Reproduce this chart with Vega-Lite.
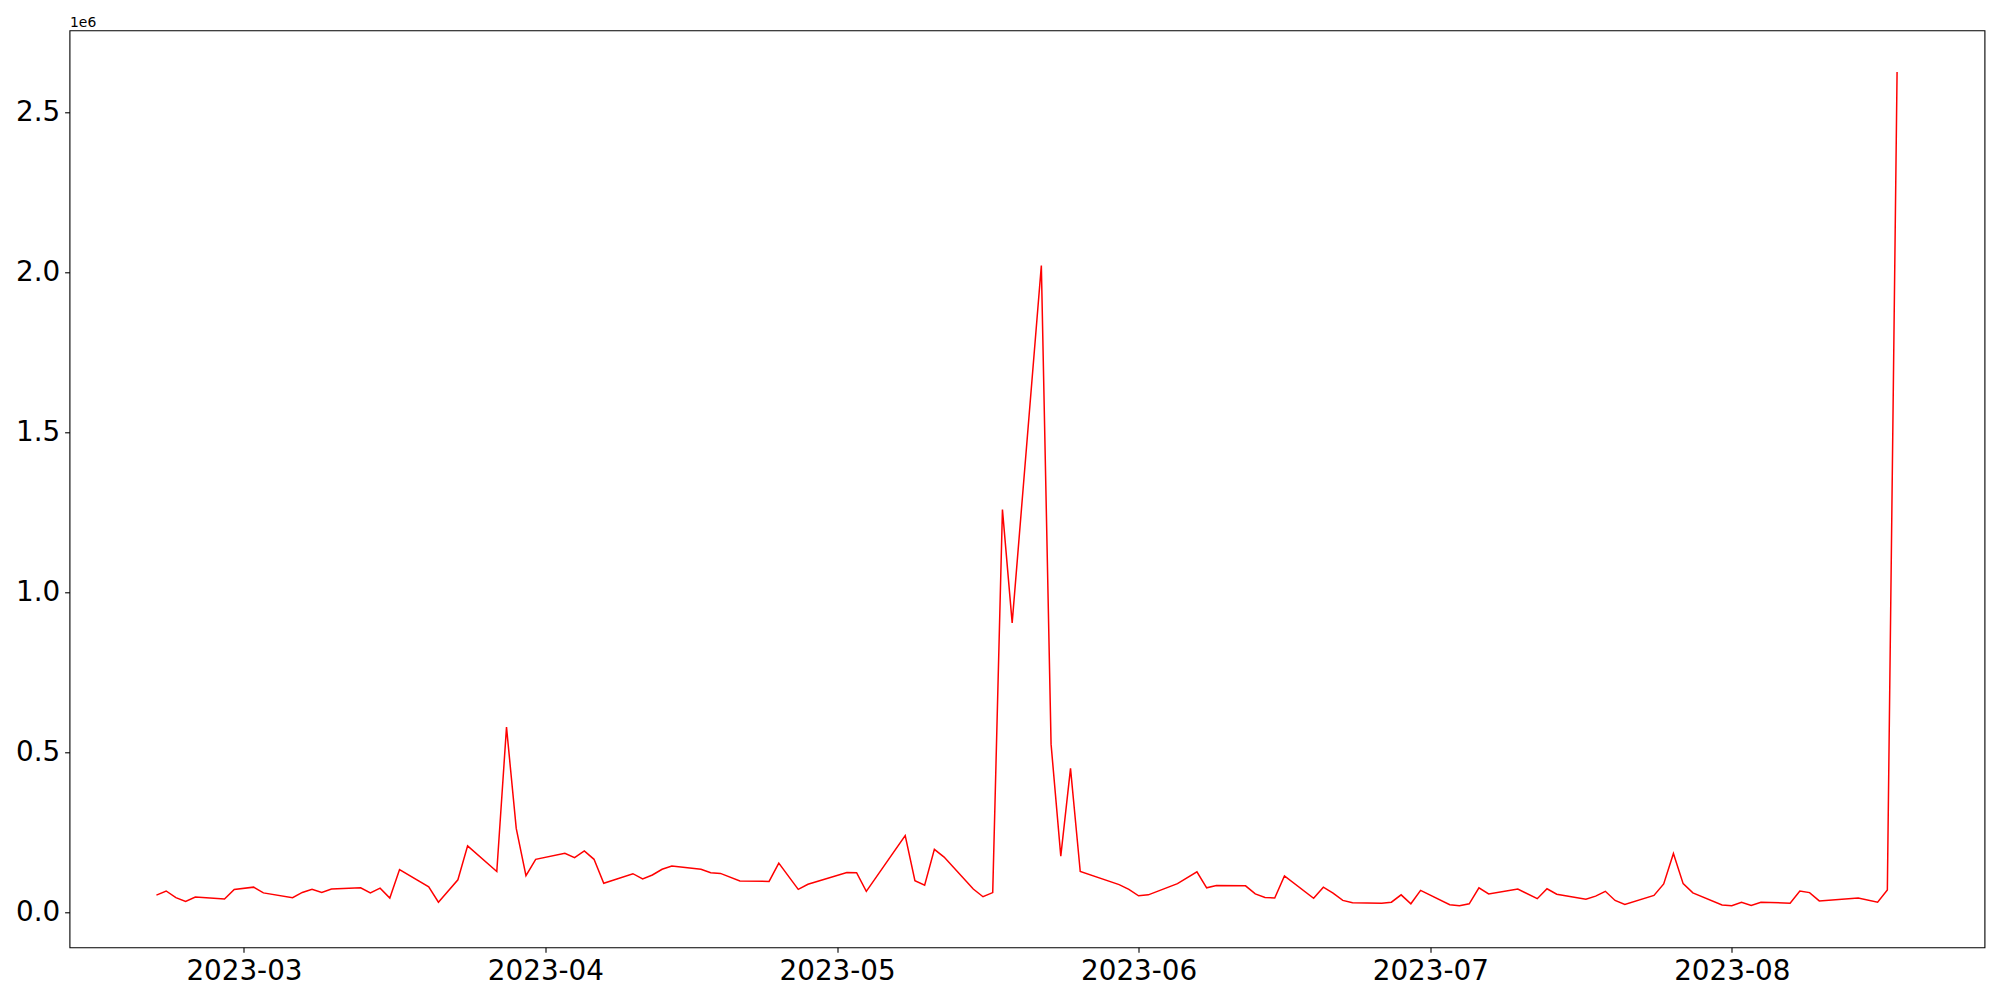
{
  "$schema": "https://vega.github.io/schema/vega-lite/v6.json",
  "width": 1915,
  "height": 917,
  "autosize": {"type": "none"},
  "padding": {"left": 69.5, "top": 30.3, "right": 15.5, "bottom": 52.7},
  "background": "white",
  "config": {
    "view": {"stroke": "black", "strokeWidth": 1.1},
    "axis": {
      "domain": false,
      "grid": false,
      "ticks": true,
      "tickColor": "black",
      "tickSize": 4.9,
      "tickWidth": 1.1,
      "labelFont": "DejaVu Sans",
      "labelFontSize": 27.8,
      "labelColor": "black",
      "labelPadding": 4.9,
      "labelFlush": false,
      "labelOverlap": false,
      "labelBound": false
    }
  },
  "data": {
    "values": [
      {"date": "2023-02-20", "value": 54000},
      {"date": "2023-02-21", "value": 67000},
      {"date": "2023-02-22", "value": 46000},
      {"date": "2023-02-23", "value": 34000},
      {"date": "2023-02-24", "value": 48000},
      {"date": "2023-02-27", "value": 42000},
      {"date": "2023-02-28", "value": 72000},
      {"date": "2023-03-02", "value": 79000},
      {"date": "2023-03-03", "value": 61000},
      {"date": "2023-03-06", "value": 46000},
      {"date": "2023-03-07", "value": 62500},
      {"date": "2023-03-08", "value": 72000},
      {"date": "2023-03-09", "value": 62500},
      {"date": "2023-03-10", "value": 73000},
      {"date": "2023-03-13", "value": 77000},
      {"date": "2023-03-14", "value": 61000},
      {"date": "2023-03-15", "value": 76000},
      {"date": "2023-03-16", "value": 45000},
      {"date": "2023-03-17", "value": 134000},
      {"date": "2023-03-20", "value": 80000},
      {"date": "2023-03-21", "value": 32000},
      {"date": "2023-03-23", "value": 102000},
      {"date": "2023-03-24", "value": 208000},
      {"date": "2023-03-27", "value": 128000},
      {"date": "2023-03-28", "value": 579000},
      {"date": "2023-03-29", "value": 262500},
      {"date": "2023-03-30", "value": 115000},
      {"date": "2023-03-31", "value": 166000},
      {"date": "2023-04-03", "value": 185000},
      {"date": "2023-04-04", "value": 171000},
      {"date": "2023-04-05", "value": 192000},
      {"date": "2023-04-06", "value": 166000},
      {"date": "2023-04-07", "value": 91000},
      {"date": "2023-04-10", "value": 121000},
      {"date": "2023-04-11", "value": 105000},
      {"date": "2023-04-12", "value": 117000},
      {"date": "2023-04-13", "value": 135000},
      {"date": "2023-04-14", "value": 145000},
      {"date": "2023-04-17", "value": 135000},
      {"date": "2023-04-18", "value": 124000},
      {"date": "2023-04-19", "value": 122000},
      {"date": "2023-04-21", "value": 98000},
      {"date": "2023-04-24", "value": 97000},
      {"date": "2023-04-25", "value": 154000},
      {"date": "2023-04-27", "value": 72000},
      {"date": "2023-04-28", "value": 88000},
      {"date": "2023-05-02", "value": 125000},
      {"date": "2023-05-03", "value": 124000},
      {"date": "2023-05-04", "value": 66000},
      {"date": "2023-05-08", "value": 240000},
      {"date": "2023-05-09", "value": 99000},
      {"date": "2023-05-10", "value": 85000},
      {"date": "2023-05-11", "value": 197000},
      {"date": "2023-05-12", "value": 173000},
      {"date": "2023-05-15", "value": 73000},
      {"date": "2023-05-16", "value": 49000},
      {"date": "2023-05-17", "value": 62000},
      {"date": "2023-05-18", "value": 1259000},
      {"date": "2023-05-19", "value": 905000},
      {"date": "2023-05-22", "value": 2022000},
      {"date": "2023-05-23", "value": 526000},
      {"date": "2023-05-24", "value": 176000},
      {"date": "2023-05-25", "value": 450000},
      {"date": "2023-05-26", "value": 128000},
      {"date": "2023-05-30", "value": 87000},
      {"date": "2023-05-31", "value": 72000},
      {"date": "2023-06-01", "value": 52000},
      {"date": "2023-06-02", "value": 55000},
      {"date": "2023-06-05", "value": 90000},
      {"date": "2023-06-07", "value": 127000},
      {"date": "2023-06-08", "value": 77000},
      {"date": "2023-06-09", "value": 84000},
      {"date": "2023-06-12", "value": 83000},
      {"date": "2023-06-13", "value": 58000},
      {"date": "2023-06-14", "value": 47000},
      {"date": "2023-06-15", "value": 45000},
      {"date": "2023-06-16", "value": 114000},
      {"date": "2023-06-19", "value": 44000},
      {"date": "2023-06-20", "value": 79000},
      {"date": "2023-06-21", "value": 60000},
      {"date": "2023-06-22", "value": 37500},
      {"date": "2023-06-23", "value": 30000},
      {"date": "2023-06-26", "value": 29000},
      {"date": "2023-06-27", "value": 32000},
      {"date": "2023-06-28", "value": 55000},
      {"date": "2023-06-29", "value": 27000},
      {"date": "2023-06-30", "value": 69000},
      {"date": "2023-07-03", "value": 24000},
      {"date": "2023-07-04", "value": 21000},
      {"date": "2023-07-05", "value": 27000},
      {"date": "2023-07-06", "value": 77000},
      {"date": "2023-07-07", "value": 58000},
      {"date": "2023-07-10", "value": 73000},
      {"date": "2023-07-12", "value": 43000},
      {"date": "2023-07-13", "value": 74000},
      {"date": "2023-07-14", "value": 57000},
      {"date": "2023-07-17", "value": 41000},
      {"date": "2023-07-18", "value": 51000},
      {"date": "2023-07-19", "value": 66000},
      {"date": "2023-07-20", "value": 37500},
      {"date": "2023-07-21", "value": 25000},
      {"date": "2023-07-24", "value": 53000},
      {"date": "2023-07-25", "value": 89000},
      {"date": "2023-07-26", "value": 184000},
      {"date": "2023-07-27", "value": 90000},
      {"date": "2023-07-28", "value": 61000},
      {"date": "2023-07-31", "value": 23000},
      {"date": "2023-08-01", "value": 21000},
      {"date": "2023-08-02", "value": 32000},
      {"date": "2023-08-03", "value": 22000},
      {"date": "2023-08-04", "value": 32000},
      {"date": "2023-08-07", "value": 29000},
      {"date": "2023-08-08", "value": 67000},
      {"date": "2023-08-09", "value": 62000},
      {"date": "2023-08-10", "value": 36000},
      {"date": "2023-08-14", "value": 45000},
      {"date": "2023-08-16", "value": 32000},
      {"date": "2023-08-17", "value": 70000},
      {"date": "2023-08-18", "value": 2627000}
    ]
  },
  "mark": {"type": "line", "color": "#ff0000", "strokeWidth": 1.5, "clip": true},
  "encoding": {
    "x": {
      "field": "date",
      "type": "temporal",
      "scale": {
        "type": "utc",
        "domain": [
          {"year": 2023, "month": 2, "date": 11, "hours": 1, "minutes": 26, "utc": true},
          {"year": 2023, "month": 8, "date": 26, "hours": 23, "minutes": 46, "utc": true}
        ],
        "nice": false
      },
      "axis": {
        "title": null,
        "values": [
          {"year": 2023, "month": 3, "date": 1, "utc": true},
          {"year": 2023, "month": 4, "date": 1, "utc": true},
          {"year": 2023, "month": 5, "date": 1, "utc": true},
          {"year": 2023, "month": 6, "date": 1, "utc": true},
          {"year": 2023, "month": 7, "date": 1, "utc": true},
          {"year": 2023, "month": 8, "date": 1, "utc": true}
        ],
        "labelExpr": "utcFormat(datum.value, '%Y-%m')"
      }
    },
    "y": {
      "field": "value",
      "type": "quantitative",
      "scale": {"domain": [-109000, 2757000], "nice": false, "zero": false},
      "axis": {
        "values": [0, 500000, 1000000, 1500000, 2000000, 2500000],
        "labelExpr": "format(datum.value / 1000000, '.1f')",
        "title": "1e6",
        "titleAngle": 0,
        "titleX": 0,
        "titleY": -4,
        "titleAlign": "left",
        "titleBaseline": "alphabetic",
        "titleFont": "DejaVu Sans",
        "titleFontSize": 13.9,
        "titleFontWeight": "normal",
        "titleColor": "black"
      }
    }
  }
}
